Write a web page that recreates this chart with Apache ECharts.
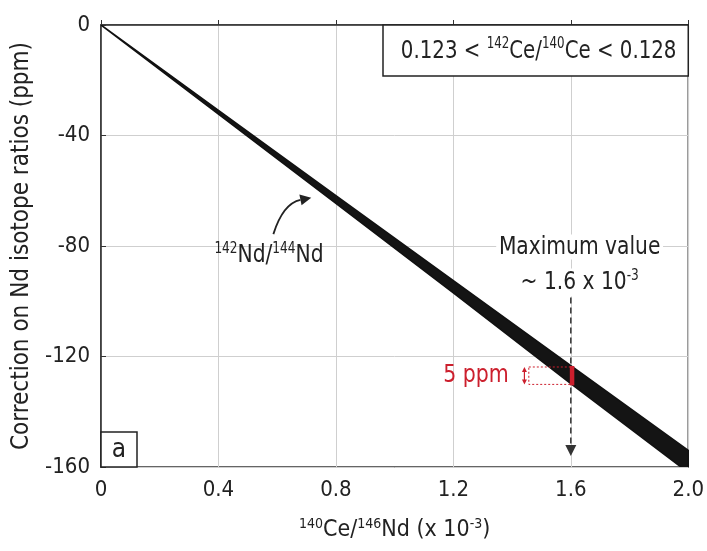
<!DOCTYPE html>
<html><head><meta charset="utf-8">
<script src="https://cdn.jsdelivr.net/npm/echarts@6/dist/echarts.min.js"></script>
<style>html,body{margin:0;padding:0;background:#fff}#c{width:707px;height:551px}</style>
</head><body><div id="c"></div>
<script>
const FONT = "'Liberation Sans Narrow','Arial Narrow','DejaVu Sans Condensed',sans-serif";

// band of corrected points (edges)
const xVals = [0, 0.4, 0.8, 1.2, 1.6, 2.0];
const upperEdge = [0, -30.9, -61.8, -92.5, -123.3, -154];
const lowerEdge = [0, -32.3, -64.6, -97, -129.8, -162];

// axes
const xMin = 0, xMax = 2.0, xStep = 0.4;
const yMin = -160, yMax = 0, yStep = 40;

// annotation anchors
const maxValueX = 1.6;
const fivePpmTop = -123.8, fivePpmBottom = -130.1;

const chart = echarts.init(document.getElementById('c'), null, {renderer: 'canvas'});

const supRich = (size, supSize, color) => ({
  n: {fontSize: size, fontFamily: FONT, color: color, lineHeight: size + 4},
  s: {fontSize: supSize, fontFamily: FONT, color: color, lineHeight: size - 3, verticalAlign: 'top'}
});

chart.setOption({
  animation: false,
  backgroundColor: '#fff',
  grid: {left: 101, right: 17, top: 25, bottom: 84, show: true, borderColor: '#333', borderWidth: 1.5, backgroundColor: 'transparent'},
  xAxis: {
    type: 'value', min: xMin, max: xMax, interval: xStep,
    axisLine: {show: true, lineStyle: {color: '#333', width: 1.5}},
    axisTick: {show: true, inside: true, length: 5, lineStyle: {color: '#333'}},
    splitLine: {show: true, lineStyle: {color: '#cfcfcf', width: 1}},
    axisLabel: {color: '#222', fontSize: 22, fontFamily: FONT, margin: 12,
      formatter: v => v === 0 ? '0' : v.toFixed(1)},
    name: '{s|140}{n|Ce/}{s|146}{n|Nd (x 10}{s|-3}{n|)}',
    nameLocation: 'middle', nameGap: 50,
    nameTextStyle: {rich: supRich(23, 14, '#222')}
  },
  yAxis: {
    type: 'value', min: yMin, max: yMax, interval: yStep,
    axisLine: {show: true, lineStyle: {color: '#333', width: 1.5}},
    axisTick: {show: true, inside: true, length: 5, lineStyle: {color: '#333'}},
    splitLine: {show: true, lineStyle: {color: '#cfcfcf', width: 1}},
    axisLabel: {color: '#222', fontSize: 22, fontFamily: FONT, margin: 11},
    name: 'Correction on Nd isotope ratios (ppm)',
    nameLocation: 'middle', nameGap: 64,
    nameTextStyle: {fontSize: 24, fontFamily: FONT, color: '#222'}
  },
  series: [
    {
      type: 'custom', clip: true, z: 3,
      data: xVals.map((x, i) => [x, upperEdge[i], lowerEdge[i]]),
      encode: {x: 0, y: [1, 2]},
      renderItem: (params, api) => {
        if (params.dataIndex !== 0) return null;
        const pts = [];
        for (let i = 0; i < xVals.length; i++) pts.push(api.coord([xVals[i], upperEdge[i]]));
        for (let i = xVals.length - 1; i >= 0; i--) pts.push(api.coord([xVals[i], lowerEdge[i]]));
        return {type: 'polygon', shape: {points: pts},
          style: {fill: '#141414', stroke: '#111', lineWidth: 1.6, lineJoin: 'round'}};
      }
    }
  ]
});

const P = (x, y) => chart.convertToPixel({gridIndex: 0}, [x, y]);
const g = [];
const RICH = (color) => ({
  n: {fontSize: 25, fontFamily: FONT, fill: color, lineHeight: 28},
  s: {fontSize: 15, fontFamily: FONT, fill: color, lineHeight: 22, verticalAlign: 'top'}
});

// range box top-right
const tl = P(xMax, yMax);
g.push({type: 'rect', shape: {x: 383, y: tl[1], width: tl[0] - 383, height: 51},
  style: {fill: '#fff', stroke: '#222', lineWidth: 1.5}, z: 10});
g.push({type: 'text', x: (383 + tl[0]) / 2 + 3, y: tl[1] + 26, z: 11, scaleX: 0.88,
  style: {text: '{n|0.123 < }{s|142}{n|Ce/}{s|140}{n|Ce < 0.128}', align: 'center', verticalAlign: 'middle',
    rich: RICH('#222')}});

// panel letter
const bl = P(xMin, yMin);
g.push({type: 'rect', shape: {x: bl[0], y: bl[1] - 35, width: 36, height: 35},
  style: {fill: '#fff', stroke: '#222', lineWidth: 1.5}, z: 10});
g.push({type: 'text', x: bl[0] + 18, y: bl[1] - 17, z: 11,
  style: {text: 'a', align: 'center', verticalAlign: 'middle', fontSize: 26, fontFamily: FONT, fill: '#222'}});

// Maximum value annotation
const mv1 = P(maxValueX + 0.03, -80.4), mv2 = P(maxValueX + 0.03, -93.2);
g.push({type: 'text', x: mv1[0], y: mv1[1], z: 11, scaleX: 0.9,
  style: {text: 'Maximum value', align: 'center', verticalAlign: 'middle', fontSize: 25, fontFamily: FONT, fill: '#222',
    backgroundColor: '#fff', padding: [0, 3]}});
g.push({type: 'text', x: mv2[0], y: mv2[1], z: 11, scaleX: 0.9,
  style: {text: '{n|~ 1.6 x 10}{s|-3}', align: 'center', verticalAlign: 'middle', backgroundColor: '#fff', padding: [0, 3],
    rich: RICH('#222')}});
const d1 = P(maxValueX, -98.6), d2 = P(maxValueX, -156);
g.push({type: 'line', shape: {x1: d1[0], y1: d1[1], x2: d2[0], y2: d2[1] - 9}, z: 12,
  style: {stroke: '#333', lineWidth: 1.5, lineDash: [6, 4]}});
g.push({type: 'polygon', shape: {points: [[d2[0] - 5.5, d2[1] - 11], [d2[0] + 5.5, d2[1] - 11], [d2[0], d2[1]]]}, z: 12,
  style: {fill: '#333'}});

// 142Nd/144Nd label + curved arrow
const lab = P(0.572, -83.5);
g.push({type: 'text', x: lab[0], y: lab[1], z: 11, scaleX: 0.9,
  style: {text: '{s|142}{n|Nd/}{s|144}{n|Nd}', align: 'center', verticalAlign: 'middle', rich: RICH('#222')}});
const c0 = P(0.587, -75.7), cp = P(0.620, -64.6), c1 = P(0.716, -62.5);
const ang = Math.atan2(c1[1] - cp[1], c1[0] - cp[0]);
const hl = 11, hw = 5.5;
const bx = c1[0] - hl * Math.cos(ang), by = c1[1] - hl * Math.sin(ang);
g.push({type: 'bezierCurve', shape: {x1: c0[0], y1: c0[1], cpx1: cp[0], cpy1: cp[1], x2: bx, y2: by}, z: 12,
  style: {stroke: '#222', lineWidth: 1.8, fill: null}});
g.push({type: 'polygon', z: 12, shape: {points: [
  [c1[0], c1[1]],
  [bx + hw * Math.sin(ang), by - hw * Math.cos(ang)],
  [bx - hw * Math.sin(ang), by + hw * Math.cos(ang)]]}, style: {fill: '#222'}});

// 5 ppm annotation
const RED = '#cc1f2d';
const r1 = P(maxValueX, fivePpmTop), r2 = P(maxValueX, fivePpmBottom);
const bxL = P(1.457, 0)[0], arrX = P(1.442, 0)[0];
g.push({type: 'rect', shape: {x: bxL, y: r1[1], width: r1[0] - bxL, height: r2[1] - r1[1]}, z: 12,
  style: {fill: null, stroke: RED, lineWidth: 1, lineDash: [2, 2]}});
g.push({type: 'rect', shape: {x: r1[0] - 1, y: r1[1] - 1, width: 4.5, height: r2[1] - r1[1] + 2}, z: 13,
  style: {fill: RED}});
g.push({type: 'line', shape: {x1: arrX, y1: r1[1] + 3, x2: arrX, y2: r2[1] - 3}, z: 12,
  style: {stroke: RED, lineWidth: 1.2}});
g.push({type: 'polygon', z: 12, shape: {points: [[arrX, r1[1]], [arrX - 2.5, r1[1] + 5], [arrX + 2.5, r1[1] + 5]]}, style: {fill: RED}});
g.push({type: 'polygon', z: 12, shape: {points: [[arrX, r2[1]], [arrX - 2.5, r2[1] - 5], [arrX + 2.5, r2[1] - 5]]}, style: {fill: RED}});
const fp = P(1.389, (fivePpmTop + fivePpmBottom) / 2);
g.push({type: 'text', x: fp[0], y: fp[1], z: 11, scaleX: 0.95,
  style: {text: '5 ppm', align: 'right', verticalAlign: 'middle', fontSize: 24, fontFamily: FONT, fill: RED}});

chart.setOption({graphic: g});
</script></body></html>
